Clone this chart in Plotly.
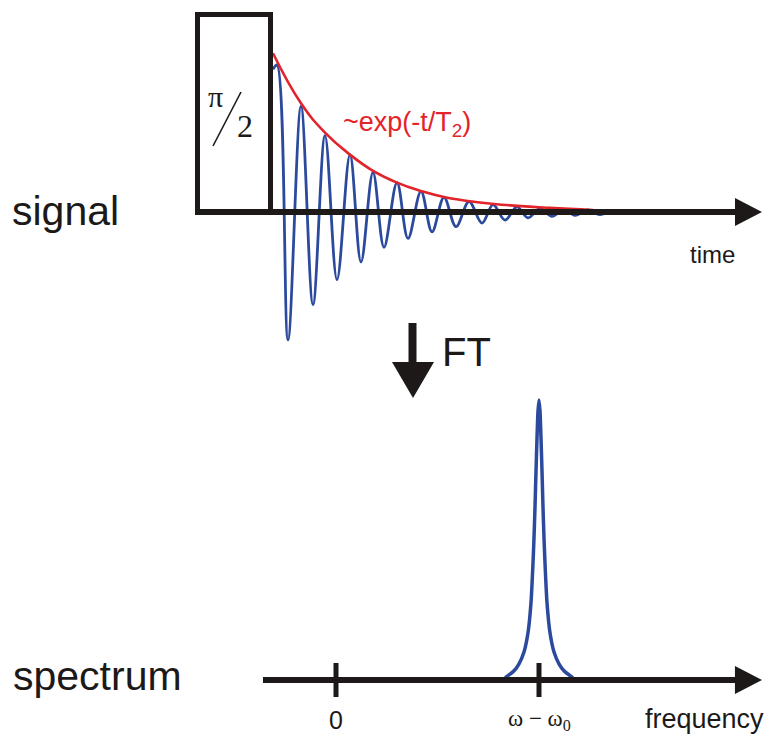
import plotly.graph_objects as go

W, H = 771, 735

# ---------------- data ----------------
# free induction decay: extrema (time in arb. units, amplitude in % of initial)
fid_t = [0.0, 0.4, 1.5, 2.8, 4.0, 5.2, 6.4, 7.7, 8.8, 10.0, 11.1, 12.4, 13.5, 14.8,
         15.9, 17.1, 18.3, 19.6, 20.9, 22.0, 23.2, 24.4, 25.5, 26.7, 27.9, 29.1,
         30.2, 31.5, 32.7, 33.9, 35.0]
fid_a = [97, 100, -87, 72, -63, 52, -46, 39, -34, 27, -24, 20, -18, 14, -13.5, 10,
         -10, 7, -7.5, 5, -5.5, 3.5, -4, 2.5, -3, 2, -2.2, 1.5, -1.8, 1, -1]
# envelope ~exp(-t/T2)
env_t = [0.0, 2.8, 5.2, 7.7, 10.0, 12.4, 14.7, 17.2, 20.7, 24.4, 27.7, 32.0]
env_a = [108, 74, 54, 39, 28, 20, 14.5, 10, 6.5, 4.2, 2.8, 1.4]
# spectrum: Lorentzian line at omega-omega0 (frequency units, intensity %)
spec_f = [8.33, 8.52, 8.77, 9.01, 9.26, 9.46, 9.61, 9.70, 9.75, 9.80, 9.85, 9.90, 9.95,
          10.0, 10.05, 10.10, 10.15, 10.20, 10.25, 10.30, 10.39, 10.54, 10.74, 10.99,
          11.23, 11.48, 11.67]
spec_i = [0.8, 1.8, 3.3, 5.7, 10, 17, 28, 41, 50, 61, 74, 86, 96,
          100, 96, 86, 74, 61, 50, 41, 28, 17, 10, 5.7, 3.3, 1.8, 0.8]
tick_vals = [0, 10]
tick_text = ["0", "ω − ω<sub>0</sub>"]

# ---------------- styles ----------------
BLUE = "#2B4A9E"
RED = "#E3232A"
BLACK = "#1C1918"
SANS = "Liberation Sans, Arial, sans-serif"
SERIF = "Liberation Serif, Times New Roman, serif"

# axis scaling (signal panel: t -> px = 273 + 10 t ; a -> py = 212 - 1.47 a)
sx0, sxs, sy0, sys = 273, 10.0, 212, 1.47
# spectrum panel: f -> px = 336 + 20.3 f ; I -> py = 680 - 2.8 I
fx0, fxs, fy0, fys = 336, 20.3, 680, 2.8


def px2paper(px, py):
    return px / W, 1 - py / H


fig = go.Figure()

fig.add_trace(go.Scatter(x=fid_t, y=fid_a, mode="lines", xaxis="x", yaxis="y",
                         line=dict(color=BLUE, width=2.8, shape="spline", smoothing=1.0),
                         hoverinfo="skip"))
fig.add_trace(go.Scatter(x=env_t, y=env_a, mode="lines", xaxis="x", yaxis="y",
                         line=dict(color=RED, width=2.6, shape="spline", smoothing=1.3),
                         hoverinfo="skip"))
fig.add_trace(go.Scatter(x=spec_f, y=spec_i, mode="lines", xaxis="x2", yaxis="y2",
                         line=dict(color=BLUE, width=3.5, shape="spline", smoothing=0.5),
                         hoverinfo="skip"))

shapes = []
# signal axis line + arrow head
t_start, t_arrow, t_tip = (195 - sx0) / sxs, (738 - sx0) / sxs, (762 - sx0) / sxs
shapes.append(dict(type="line", xref="x", yref="y", x0=t_start, x1=t_arrow, y0=0, y1=0,
                   line=dict(color=BLACK, width=6)))
hh = 14 / sys
shapes.append(dict(type="path", xref="x", yref="y",
                   path=f"M {t_arrow-0.3},{hh} L {t_tip},0 L {t_arrow-0.3},{-hh} Z",
                   fillcolor=BLACK, line=dict(color=BLACK, width=0)))
# pi/2 pulse box
shapes.append(dict(type="rect", xref="x", yref="y",
                   x0=(197.5 - sx0) / sxs, x1=(270.5 - sx0) / sxs,
                   y0=0, y1=(sy0 - 14.5) / sys,
                   line=dict(color=BLACK, width=5), fillcolor="rgba(0,0,0,0)"))
# slash of pi/2
shapes.append(dict(type="line", xref="x", yref="y",
                   x0=(213 - sx0) / sxs, y0=(sy0 - 146) / sys,
                   x1=(241 - sx0) / sxs, y1=(sy0 - 92) / sys,
                   line=dict(color=BLACK, width=1.6)))

# spectrum axis
f_start, f_arrow, f_tip = (263 - fx0) / fxs, (738 - fx0) / fxs, (762 - fx0) / fxs
shapes.append(dict(type="line", xref="x2", yref="y2", x0=f_start, x1=f_arrow, y0=0, y1=0,
                   line=dict(color=BLACK, width=6)))
hh2 = 14 / fys
shapes.append(dict(type="path", xref="x2", yref="y2",
                   path=f"M {f_arrow-0.15},{hh2} L {f_tip},0 L {f_arrow-0.15},{-hh2} Z",
                   fillcolor=BLACK, line=dict(color=BLACK, width=0)))
tk = 17 / fys
for tv in tick_vals:
    shapes.append(dict(type="line", xref="x2", yref="y2", x0=tv, x1=tv, y0=-tk, y1=tk,
                       line=dict(color=BLACK, width=5)))

# FT down arrow (paper coords)
ax0, ay0 = px2paper(412.5, 323)
ax1, ay1 = px2paper(412.5, 364)
shapes.append(dict(type="line", xref="paper", yref="paper", x0=ax0, y0=ay0, x1=ax1, y1=ay1,
                   line=dict(color=BLACK, width=8)))
p1 = px2paper(392, 362)
p2 = px2paper(434, 362)
p3 = px2paper(413, 398)
shapes.append(dict(type="path", xref="paper", yref="paper",
                   path=f"M {p1[0]},{p1[1]} L {p2[0]},{p2[1]} L {p3[0]},{p3[1]} Z",
                   fillcolor=BLACK, line=dict(color=BLACK, width=0)))

annotations = []


def ann(text, px, py, size, family=SANS, color=BLACK, xanchor="left"):
    x, y = px2paper(px, py)
    annotations.append(dict(text=text, x=x, y=y, xref="paper", yref="paper",
                            xanchor=xanchor, yanchor="middle", showarrow=False,
                            font=dict(size=size, family=family, color=color)))


ann("signal", 10, 211, 41)
ann("spectrum", 11, 676, 41)
ann("time", 688, 254, 24)
ann("frequency", 643, 719, 27)
ann("FT", 440, 352, 40)
ann("~exp(-t/T<sub>2</sub>)", 341, 124, 27, color=RED)
ann("π", 215, 96, 30, family=SERIF, xanchor="center")
ann("2", 245, 126, 32, family=SERIF, xanchor="center")

for tv, tt in zip(tick_vals, tick_text):
    xp = (fx0 + fxs * tv) / W
    fam = SANS if tv == 0 else SERIF
    size = 25 if tv == 0 else 23
    annotations.append(dict(text=tt, x=xp, y=1 - 720 / H, xref="paper", yref="paper",
                            xanchor="center", yanchor="middle", showarrow=False,
                            font=dict(size=size, family=fam, color=BLACK)))

hidden = dict(visible=False, showgrid=False, zeroline=False, fixedrange=True)
fig.update_layout(
    width=W, height=H, margin=dict(l=0, r=0, t=0, b=0),
    paper_bgcolor="white", plot_bgcolor="rgba(0,0,0,0)", showlegend=False,
    xaxis=dict(hidden, domain=[0, 1], range=[(0 - sx0) / sxs, (W - sx0) / sxs]),
    yaxis=dict(hidden, domain=[0, 1], range=[(sy0 - H) / sys, sy0 / sys]),
    xaxis2=dict(hidden, domain=[0, 1], range=[(0 - fx0) / fxs, (W - fx0) / fxs], anchor="y2",
                overlaying="x"),
    yaxis2=dict(hidden, domain=[0, 1], range=[(fy0 - H) / fys, fy0 / fys], anchor="x2",
                overlaying="y"),
    shapes=shapes, annotations=annotations,
)
fig.write_html("out.html")
